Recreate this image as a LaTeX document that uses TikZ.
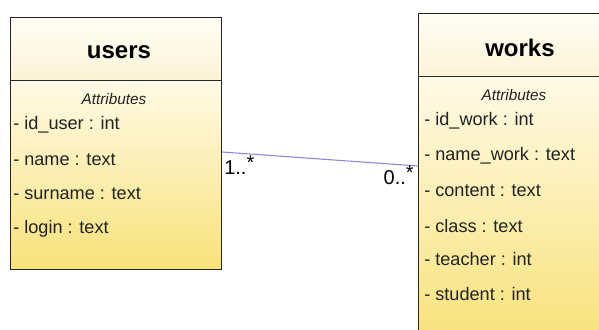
\documentclass[tikz,border=0pt]{standalone}
\usepackage{fontspec}
\setmainfont{Liberation Sans}
\usetikzlibrary{calc}
\definecolor{hdtop}{HTML}{FFFEF6}
\definecolor{hdbot}{HTML}{FCF3D6}
\definecolor{bdtop}{HTML}{FFFAE6}
\definecolor{bdbot}{HTML}{F8E27A}
\definecolor{assoc}{HTML}{8A88D6}
\definecolor{txt}{HTML}{222222}
\begin{document}
\begin{tikzpicture}[x=0.75pt,y=-0.75pt,
  hdbox/.style={draw=black!85, line width=0.8pt, anchor=north west, inner sep=0pt,
    top color=hdtop, bottom color=hdbot},
  bdbox/.style={draw=black!85, line width=0.8pt, anchor=north west, inner sep=0pt,
    top color=bdtop, bottom color=bdbot},
  title/.style={font=\fontsize{18}{21}\selectfont\bfseries, text=black},
  attrhead/.style={font=\fontsize{11.5}{13}\selectfont\itshape, text=txt},
  attr/.style={font=\fontsize{13.6}{16}\selectfont, text=txt, anchor=west, inner sep=0pt},
  mult/.style={font=\fontsize{15}{17}\selectfont, text=black, inner sep=0pt},
  assocline/.style={draw=assoc, line width=0.8pt}]
\useasboundingbox (0,0) rectangle (599,329);
\clip (0,0) rectangle (599,329);
% users class
\node[hdbox, minimum width=158.25pt, minimum height=47.25pt] (uhead) at (10,17) {};
\node[bdbox, minimum width=158.25pt, minimum height=141.75pt] (ubody) at (10,80) {};
\node[title] (utitle) at (119,52) {users};
\node[attrhead] (uattr) at (114,99) {Attributes};
\node[attr] (u1) at (13,125) {- id\_user : int};
\node[attr] (u2) at (13,160) {- name : text};
\node[attr] (u3) at (13,194) {- surname : text};
\node[attr] (u4) at (13,229) {- login : text};
% works class
\node[hdbox, minimum width=142.5pt, minimum height=47.25pt] (whead) at (418,13) {};
\node[bdbox, minimum width=142.5pt, minimum height=198pt] (wbody) at (418,76) {};
\node[title] (wtitle) at (520,48) {works};
\node[attrhead] (wattr) at (514,95) {Attributes};
\node[attr] (w1) at (424,121) {- id\_work : int};
\node[attr] (w2) at (424,156) {- name\_work : text};
\node[attr] (w3) at (424,191) {- content : text};
\node[attr] (w4) at (424,226) {- class : text};
\node[attr] (w5) at (424,259) {- teacher : int};
\node[attr] (w6) at (424,294) {- student : int};
% association
\coordinate (ua) at ($(ubody.north east)+(0,72)$);
\coordinate (wa) at ($(wbody.north west)+(0,90)$);
\draw[assocline] (ua) -- (wa);
\node[mult, anchor=west] (m1) at (224,165) {1..\raisebox{4pt}{*}};
\node[mult, anchor=east] (m2) at (414,175) {0..\raisebox{4pt}{*}};
\end{tikzpicture}
\end{document}
